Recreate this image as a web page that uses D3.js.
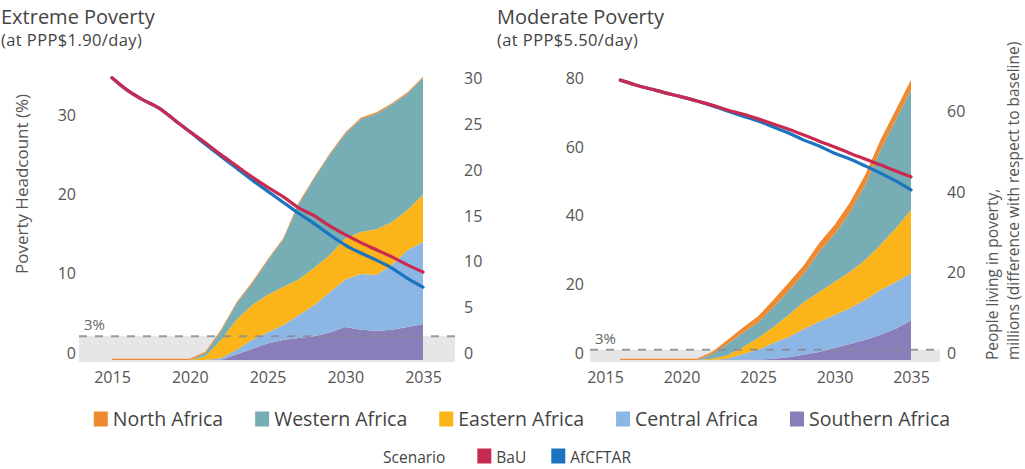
<!DOCTYPE html>
<html><head><meta charset="utf-8">
<script src="https://cdn.jsdelivr.net/npm/d3@7"></script>
<style>
body{margin:0;background:#fff}
text{font-family:'Open Sans',sans-serif}
</style>
</head><body>
<svg id="c" width="1025" height="469"></svg>
<script>
// ---------- data ----------
const regions = ["North Africa","Western Africa","Eastern Africa","Central Africa","Southern Africa"];
const regionColors = ["#EF8A30","#77AEB5","#FBB41A","#8CB6E3","#8A7EBA"];
const scenarios = ["BaU","AfCFTAR"];
const scenarioColors = ["#C92B50","#1A74BF"];

const extYears    = [2015,2016,2017,2018,2019,2020,2021,2022,2023,2024,2025,2026,2027,2028,2029,2030,2031,2032,2033,2034,2035];
const extNorth    = [0.15,0.15,0.15,0.15,0.15,0.15,0.15,0.15,0.15,0.15,0.15,0.15,0.15,0.15,0.15,0.15,0.15,0.15,0.15,0.15,0.15];
const extWestern  = [0,0,0,0,0,0,0.35,0.95,1.75,2.35,3.75,5.15,8.25,9.75,10.95,11.45,12.35,12.65,12.85,12.75,12.75];
const extEastern  = [0,0,0,0,0,0,0.4,2.0,3.3,3.8,4.1,4.2,3.9,4.1,4.1,4.5,4.6,5.0,4.7,4.4,5.2];
const extCentral  = [0,0,0,0,0,0,0,0.2,0.5,1.0,1.2,1.6,2.5,3.4,4.4,5.2,6.1,6.1,7.1,8.4,9.0];
const extSouthern = [0,0,0,0,0,0,0,0,0.6,1.2,1.8,2.2,2.4,2.6,3.0,3.6,3.3,3.2,3.3,3.6,3.9];
const extBaU      = [35.6,34.0,32.8,31.8,30.3,28.8,27.4,25.9,24.5,23.1,21.8,20.6,19.2,18.2,16.9,15.8,14.8,13.9,13.0,12.0,11.1];
const extAfCFTAR  = [35.6,34.0,32.8,31.8,30.3,28.8,27.2,25.7,24.2,22.7,21.3,19.9,18.5,17.2,15.8,14.5,13.5,12.6,11.6,10.3,9.2];

const modYears    = [2016,2017,2018,2019,2020,2021,2022,2023,2024,2025,2026,2027,2028,2029,2030,2031,2032,2033,2034,2035];
const modNorth    = [0.3,0.3,0.3,0.3,0.3,0.3,0.6,1.0,1.3,1.6,1.8,2.0,2.1,2.2,2.3,2.4,2.4,2.5,2.5,2.5];
const modWestern  = [0,0,0,0,0,0,1.1,2.8,3.5,3.8,4.9,6.0,7.1,10.0,11.9,14.8,18.7,23.6,26.9,29.9];
const modEastern  = [0,0,0,0,0,0,0.3,0.9,1.7,3.0,4.0,5.5,6.7,7.4,8.2,9.0,10.0,11.2,13.4,15.7];
const modCentral  = [0,0,0,0,0,0,0,0.3,1.5,2.4,3.9,5.0,6.4,7.5,8.2,8.9,9.9,11.1,11.6,11.8];
const modSouthern = [0,0,0,0,0,0,0,0,0,0.1,0.3,0.7,1.3,2.0,3.0,4.0,5.0,6.3,7.8,9.8];
const modBaU      = [81.6,80.2,79.0,77.8,76.7,75.5,74.3,72.9,71.7,70.3,68.8,67.3,65.6,63.8,62.1,60.3,58.6,56.9,55.1,53.4];
const modAfCFTAR  = [81.6,80.2,79.0,77.8,76.7,75.5,74.1,72.6,71.1,69.7,67.9,66.2,64.1,62.4,60.3,58.6,56.6,54.5,52.2,49.6];

const xTicks = [2015,2020,2025,2030,2035];
const extLeftTicks = [0,10,20,30];
const extRightTicks = [0,5,10,15,20,25,30];
const modLeftTicks = [0,20,40,60,80];
const modRightTicks = [0,20,40,60];
const threshold = 3;

// ---------- drawing ----------
const svg = d3.select("#c");
const labelColor = "#555";

function panel(cfg){
  const g = svg.append("g");
  const x = d3.scaleLinear().domain([2015,2035]).range(cfg.xRange);
  const yL = d3.scaleLinear().domain(cfg.yLDomain).range([360, 360 - cfg.yLDomain[1]*cfg.yLpx]);
  const yR = d3.scaleLinear().domain(cfg.yRDomain).range([360, 360 - cfg.yRDomain[1]*cfg.yRpx]);

  g.append("rect").attr("x", cfg.bandX[0]).attr("width", cfg.bandX[1]-cfg.bandX[0])
    .attr("y", yL(threshold)).attr("height", 362 - yL(threshold)).attr("fill", "#E6E6E6");

  const rows = cfg.years.map((yr,i)=>({year:yr,
    "Southern Africa":cfg.series[4][i],"Central Africa":cfg.series[3][i],
    "Eastern Africa":cfg.series[2][i],"Western Africa":cfg.series[1][i],"North Africa":cfg.series[0][i]}));
  const keys = ["Southern Africa","Central Africa","Eastern Africa","Western Africa","North Africa"];
  const stack = d3.stack().keys(keys)(rows);
  const area = d3.area().x(d=>x(d.data.year)).y0(d=>yR(d[0])).y1(d=>yR(d[1]));
  g.selectAll("path.area").data(stack).join("path").attr("class","area")
    .attr("d", area).attr("fill", d=>regionColors[regions.indexOf(d.key)]);

  g.append("line").attr("x1", cfg.bandX[0]).attr("x2", cfg.bandX[1])
    .attr("y1", yL(threshold)).attr("y2", yL(threshold))
    .attr("stroke","#8a8a96").attr("stroke-width",2).attr("stroke-dasharray","8,8").attr("opacity",0.85);
  g.append("text").attr("x", cfg.pctX).attr("y", yL(threshold)-6)
    .attr("font-size",15).attr("fill","#666").text("3%");

  const line = d3.line().x((d,i)=>x(cfg.years[i])).y(d=>yL(d)).curve(d3.curveMonotoneX);
  [[cfg.afc,1],[cfg.bau,0]].forEach(([s,k])=>{
    g.append("path").attr("d", line(s)).attr("fill","none")
      .attr("stroke", scenarioColors[k]).attr("stroke-width",3.2).attr("stroke-linecap","round");
  });

  const ax = g.append("g").attr("transform",`translate(0,369)`)
    .call(d3.axisBottom(x).tickValues(xTicks).tickFormat(d3.format("d")).tickSize(0).tickPadding(3));
  const aL = g.append("g").attr("transform",`translate(${cfg.leftAxisX},0)`)
    .call(d3.axisLeft(yL).tickValues(cfg.leftTicks).tickSize(0).tickPadding(0));
  const aR = g.append("g").attr("transform",`translate(${cfg.rightAxisX},0)`)
    .call(d3.axisRight(yR).tickValues(cfg.rightTicks).tickSize(0).tickPadding(0));
  [ax,aL,aR].forEach(a=>{
    a.select(".domain").remove();
    a.selectAll("text").attr("font-size",16).attr("fill",labelColor).attr("font-family","'Open Sans',sans-serif");
  });
  aL.selectAll("text").attr("y",-7);
  aR.selectAll("text").attr("y",-7);

  g.append("text").attr("x",cfg.titleX).attr("y",24).attr("font-size",20).attr("fill","#444").text(cfg.title);
  g.append("text").attr("x",cfg.titleX).attr("y",46).attr("font-size",16.5).attr("letter-spacing",0.4).attr("fill","#444").text(cfg.subtitle);
  return g;
}

panel({
  xRange:[112,423], yLDomain:[0,35], yLpx:7.93, yRDomain:[0,30], yRpx:9.14,
  bandX:[79,455], pctX:84, years:extYears,
  series:[extNorth,extWestern,extEastern,extCentral,extSouthern],
  bau:extBaU, afc:extAfCFTAR, leftTicks:extLeftTicks, rightTicks:extRightTicks,
  leftAxisX:76, rightAxisX:464, titleX:1,
  title:"Extreme Poverty", subtitle:"(at PPP$1.90/day)"
});
panel({
  xRange:[605,911], yLDomain:[0,80], yLpx:3.43, yRDomain:[0,60], yRpx:4.02,
  bandX:[590,940], pctX:595, years:modYears,
  series:[modNorth,modWestern,modEastern,modCentral,modSouthern],
  bau:modBaU, afc:modAfCFTAR, leftTicks:modLeftTicks, rightTicks:modRightTicks,
  leftAxisX:584, rightAxisX:947, titleX:497,
  title:"Moderate Poverty", subtitle:"(at PPP$5.50/day)"
});

svg.append("text").attr("transform","translate(28,184) rotate(-90)").attr("text-anchor","middle")
  .attr("font-size",17).attr("fill",labelColor).text("Poverty Headcount (%)");
svg.append("text").attr("transform","translate(998,360) rotate(-90)").attr("text-anchor","start")
  .attr("font-size",15.5).attr("fill",labelColor).text("People living in poverty,");
svg.append("text").attr("transform","translate(1019,360) rotate(-90)").attr("text-anchor","start")
  .attr("font-size",15.5).attr("fill",labelColor).text("millions (difference with respect to baseline)");

function legendRow(items, colors, y, fontSize, centerX, gap, lead){
  const g = svg.append("g");
  let cx = 0;
  if(lead){
    const t = g.append("text").attr("x",0).attr("y",y+7).attr("font-size",fontSize).attr("fill","#444").text(lead);
    cx = t.node().getComputedTextLength() + 32;
  }
  items.forEach((name,i)=>{
    g.append("rect").attr("x",cx).attr("y",y-7.5).attr("width",14).attr("height",15).attr("fill",colors[i]);
    const t = g.append("text").attr("x",cx+19).attr("y",y+7).attr("font-size",fontSize).attr("fill","#444").text(name);
    cx += 19 + t.node().getComputedTextLength() + (i<items.length-1?gap:0);
  });
  g.attr("transform",`translate(${centerX - cx/2},0)`);
}
legendRow(regions, regionColors, 419, 19.5, 522, 32, null);
legendRow(scenarios, scenarioColors, 456, 15.5, 507, 25, "Scenario");
</script>
</body></html>
